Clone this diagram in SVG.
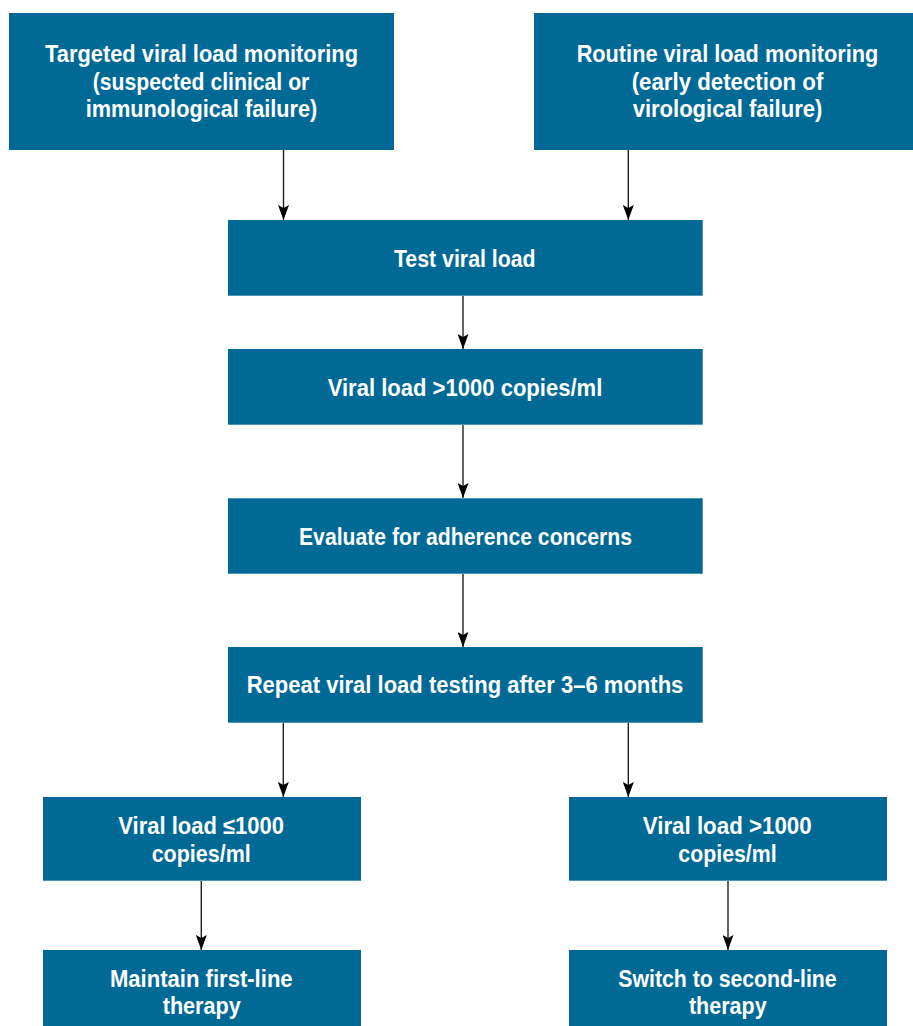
<svg xmlns="http://www.w3.org/2000/svg" width="913" height="1026" viewBox="0 0 913 1026">
<style>
.box{fill:#006996;}
.t{font-family:"Liberation Sans",Arial,sans-serif;font-weight:bold;font-size:23px;fill:#ffffff;text-anchor:middle;}
.c{stroke:#222222;stroke-width:1.4;fill:none;marker-end:url(#ah);}
</style>
<defs>
<marker id="ah" markerUnits="userSpaceOnUse" markerWidth="15" markerHeight="11" refX="15" refY="5.5" orient="auto" viewBox="0 0 15 11">
<path d="M0,0 L15,5.5 L0,11 L3,5.5 Z" fill="#000000"/>
</marker>
</defs>
<rect width="913" height="1026" fill="#ffffff"/>
<g id="connectors">
<line class="c" x1="283.5" y1="150" x2="283.5" y2="220"/>
<line class="c" x1="628.3" y1="150" x2="628.3" y2="220"/>
<line class="c" x1="463" y1="296" x2="463" y2="349"/>
<line class="c" x1="463" y1="425" x2="463" y2="498"/>
<line class="c" x1="463" y1="574" x2="463" y2="647"/>
<line class="c" x1="283.3" y1="723" x2="283.3" y2="797"/>
<line class="c" x1="628.3" y1="723" x2="628.3" y2="797"/>
<line class="c" x1="201.3" y1="881" x2="201.3" y2="950"/>
<line class="c" x1="728" y1="881" x2="728" y2="950"/>
</g>
<g id="targeted">
<rect class="box" x="9" y="13" width="385" height="137"/>
<text class="t"><tspan x="201.5" y="61.7" textLength="313" lengthAdjust="spacingAndGlyphs">Targeted viral load monitoring</tspan><tspan x="201" y="89.5" textLength="216.7" lengthAdjust="spacingAndGlyphs">(suspected clinical or</tspan><tspan x="201.5" y="117.3" textLength="231.7" lengthAdjust="spacingAndGlyphs">immunological failure)</tspan></text>
</g>
<g id="routine">
<rect class="box" x="534" y="13" width="379" height="137"/>
<text class="t"><tspan x="727.5" y="61.7" textLength="301.7" lengthAdjust="spacingAndGlyphs">Routine viral load monitoring</tspan><tspan x="727.5" y="89.5" textLength="191.7" lengthAdjust="spacingAndGlyphs">(early detection of</tspan><tspan x="727.5" y="117.3" textLength="189.7" lengthAdjust="spacingAndGlyphs">virological failure)</tspan></text>
</g>
<g id="test">
<rect class="box" x="228" y="220" width="474.7" height="75.7"/>
<text class="t" x="464.8" y="266.7" textLength="141.7" lengthAdjust="spacingAndGlyphs">Test viral load</text>
</g>
<g id="vl1000">
<rect class="box" x="228" y="349" width="474.7" height="75.7"/>
<text class="t" x="465" y="396" textLength="274.7" lengthAdjust="spacingAndGlyphs">Viral load &gt;1000 copies/ml</text>
</g>
<g id="evaluate">
<rect class="box" x="228" y="498.3" width="474.7" height="75.4"/>
<text class="t" x="465.5" y="545" textLength="333" lengthAdjust="spacingAndGlyphs">Evaluate for adherence concerns</text>
</g>
<g id="repeat">
<rect class="box" x="228" y="647" width="474.7" height="75.7"/>
<text class="t" x="465" y="693" textLength="436.7" lengthAdjust="spacingAndGlyphs">Repeat viral load testing after 3–6 months</text>
</g>
<g id="vlle">
<rect class="box" x="43" y="797" width="318" height="83.7"/>
<text class="t"><tspan x="201.2" y="834" textLength="165.7" lengthAdjust="spacingAndGlyphs">Viral load ≤1000</tspan><tspan x="201.2" y="861.7" textLength="99" lengthAdjust="spacingAndGlyphs">copies/ml</tspan></text>
</g>
<g id="vlgt">
<rect class="box" x="569" y="797" width="318" height="83.7"/>
<text class="t"><tspan x="727.2" y="834" textLength="169" lengthAdjust="spacingAndGlyphs">Viral load &gt;1000</tspan><tspan x="727.5" y="861.7" textLength="98.3" lengthAdjust="spacingAndGlyphs">copies/ml</tspan></text>
</g>
<g id="maintain">
<rect class="box" x="43" y="950" width="318" height="76"/>
<text class="t"><tspan x="201.3" y="986.5" textLength="182.7" lengthAdjust="spacingAndGlyphs">Maintain first-line</tspan><tspan x="201.7" y="1014" textLength="78" lengthAdjust="spacingAndGlyphs">therapy</tspan></text>
</g>
<g id="switch">
<rect class="box" x="569" y="950" width="318" height="76"/>
<text class="t"><tspan x="727.5" y="986.5" textLength="218.3" lengthAdjust="spacingAndGlyphs">Switch to second-line</tspan><tspan x="727.8" y="1014" textLength="77.7" lengthAdjust="spacingAndGlyphs">therapy</tspan></text>
</g>
</svg>
